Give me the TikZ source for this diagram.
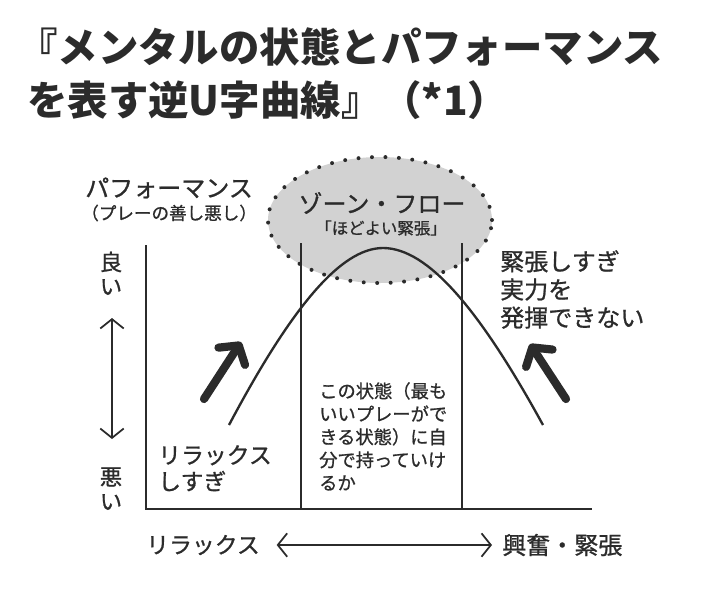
\documentclass[tikz,border=0pt]{standalone}
\usepackage{fontspec}
\setmainfont{Noto Sans CJK JP}
\newfontfamily\jpmed{Noto Sans CJK JP}[FakeBold=0.9]
\usetikzlibrary{arrows.meta,calc,shapes.geometric}
\definecolor{ink}{HTML}{2B2B2B}
\definecolor{zonegray}{HTML}{D2D2D2}
\tikzset{
  txt/.style={text=ink, inner sep=0pt},
  axisline/.style={draw=ink, line width=1.8pt},
  zoneline/.style={draw=ink, line width=2.2pt},
  curveline/.style={draw=ink, line width=2pt},
  dblarrow/.style={draw=ink, line width=1.5pt, {Straight Barb[length=8pt,width=20pt]}-{Straight Barb[length=8pt,width=20pt]}},
  bigarrow/.style={draw=ink, line width=7pt, line cap=round, -{Straight Barb[length=11pt,width=27pt,line cap=round,line join=round]}},
}

\begin{document}
\begin{tikzpicture}[x=0.03cm,y=-0.03cm]
  \useasboundingbox (0,0) rectangle (710,602);
  % title
  \node[txt,anchor=west,font=\fontsize{34.5}{40}\selectfont\bfseries] (title1) at (17,47) {『メンタルの状態とパフォーマンス};
  \node[txt,anchor=west,font=\fontsize{34.5}{40}\selectfont\bfseries] (title2) at (27,100) {を表す逆U字曲線』（*1）};
  % zone
  \node[ellipse, fill=zonegray, draw=ink, line width=3.4pt, dash pattern=on 0pt off 11.5pt, line cap=round,
        minimum width=6.72cm, minimum height=3.78cm, inner sep=0pt] (zone) at (380,220) {};
  \node[txt,font=\fontsize{20.5}{24}\selectfont\jpmed] (zonename) at (382,203) {ゾーン・フロー};
  \node[txt,font=\fontsize{14}{16}\selectfont\jpmed] (zonesub) at (381,228) {「ほどよい緊張」};
  % axes
  \coordinate (Ytop) at (146,245);
  \coordinate (O) at (146,509);
  \coordinate (Xend) at (592,509);
  \draw[axisline] (Ytop) -- (O) -- (Xend);
  % zone borders
  \coordinate (Ltop) at (301,243);
  \coordinate (Lbot) at (301,509);
  \coordinate (Rtop) at (462,243);
  \coordinate (Rbot) at (462,509);
  \draw[zoneline] (Ltop) -- (Lbot);
  \draw[zoneline] (Rtop) -- (Rbot);
  % inverted U
  \coordinate (Cstart) at (229,425);
  \coordinate (Cpeak) at (383,248);
  \coordinate (Cend) at (543,425);
  \draw[curveline] (Cstart) .. controls (290,310) and (340,248) .. (Cpeak)
                   .. controls (428,248) and (480,310) .. (Cend);
  % thick arrows
  \coordinate (UpL0) at (204,399);
  \coordinate (UpL1) at (241,342);
  \coordinate (UpR0) at (566,399);
  \coordinate (UpR1) at (530,344);
  \draw[bigarrow] (UpL0) -- (UpL1);
  \draw[bigarrow] (UpR0) -- (UpR1);
  % y labels
  \node[txt,font=\fontsize{20.5}{24}\selectfont\jpmed,anchor=west] (perf) at (85,188) {パフォーマンス};
  \node[txt,font=\fontsize{15}{17}\selectfont\jpmed,anchor=west] (perfsub) at (81,213) {（プレーの善し悪し）};
  \node[txt,font=\fontsize{19}{22}\selectfont\jpmed] (good1) at (111,262) {良};
  \node[txt,font=\fontsize{19}{22}\selectfont\jpmed] (good2) at (111,287) {い};
  \node[txt,font=\fontsize{19}{22}\selectfont\jpmed] (bad1) at (111,477) {悪};
  \node[txt,font=\fontsize{19}{22}\selectfont\jpmed] (bad2) at (111,502) {い};
  \coordinate (Ya) at (112,318);
  \coordinate (Yb) at (112,439);
  \draw[dblarrow] (Ya) -- (Yb);
  % x labels
  \node[txt,font=\fontsize{19.5}{22}\selectfont\jpmed,anchor=west] (relax) at (146,545) {リラックス};
  \node[txt,font=\fontsize{20.5}{22}\selectfont\jpmed,anchor=west] (excite) at (502,545) {興奮・緊張};
  \draw[dblarrow] ([xshift=0.5cm]relax.east) -- ([xshift=-0.3cm]excite.west);
  % notes
  \node[txt,font=\fontsize{19.5}{22.5}\selectfont\jpmed,anchor=north west,align=left] (toorelax) at (158,445) {リラックス\\しすぎ};
  \node[txt,font=\fontsize{20.5}{24}\selectfont\jpmed,anchor=north west,align=left] (tootense) at (500,250) {緊張しすぎ\\実力を\\発揮できない};
  \node[txt,font=\fontsize{15.6}{19.6}\selectfont\jpmed,anchor=north west,align=left] (best) at (319,382)
       {この状態（最も\\いいプレーがで\\きる状態）に自\\分で持っていけ\\るか};
\end{tikzpicture}
\end{document}
